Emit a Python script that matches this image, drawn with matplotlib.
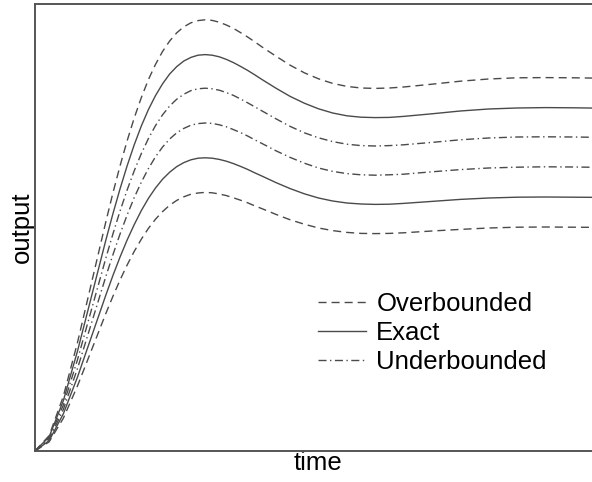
import matplotlib
matplotlib.use("Agg")
import matplotlib.pyplot as plt

plt.rcParams['font.family'] = ['Liberation Sans', 'DejaVu Sans']

time = [0, 0.25, 0.5, 0.75, 1, 1.25, 1.375, 1.5, 1.625, 1.75, 1.875, 2, 2.125, 2.25,
        2.375, 2.5, 2.625, 2.75, 2.875, 3, 3.125, 3.25, 3.375, 3.5, 3.625, 3.75, 3.875,
        4, 4.25, 4.5, 4.75, 5, 5.25, 5.5, 5.75, 6, 6.25, 6.5, 7, 7.5, 8, 8.5, 9, 9.5, 10]

over_high = [0, 0.077, 0.274, 0.543, 0.845, 1.147, 1.291, 1.426, 1.551, 1.665, 1.767,
             1.857, 1.933, 1.998, 2.050, 2.091, 2.121, 2.141, 2.152, 2.156, 2.153, 2.144,
             2.130, 2.113, 2.092, 2.070, 2.046, 2.021, 1.974, 1.929, 1.891, 1.861, 1.838,
             1.823, 1.815, 1.813, 1.815, 1.820, 1.834, 1.849, 1.860, 1.866, 1.867, 1.866,
             1.864]
exact_high = [0, 0.071, 0.252, 0.500, 0.777, 1.055, 1.187, 1.311, 1.426, 1.531, 1.625,
              1.707, 1.777, 1.836, 1.885, 1.922, 1.950, 1.968, 1.979, 1.982, 1.979, 1.971,
              1.958, 1.942, 1.923, 1.903, 1.881, 1.858, 1.814, 1.773, 1.739, 1.711, 1.690,
              1.676, 1.669, 1.667, 1.668, 1.673, 1.686, 1.700, 1.710, 1.715, 1.717, 1.716,
              1.714]
under_high = [0, 0.065, 0.230, 0.457, 0.711, 0.965, 1.086, 1.200, 1.305, 1.401, 1.487,
              1.562, 1.627, 1.681, 1.725, 1.759, 1.784, 1.802, 1.811, 1.814, 1.811, 1.804,
              1.792, 1.778, 1.760, 1.741, 1.721, 1.701, 1.661, 1.623, 1.591, 1.566, 1.547,
              1.534, 1.527, 1.525, 1.527, 1.531, 1.543, 1.556, 1.565, 1.570, 1.571, 1.570,
              1.568]
under_low = [0, 0.058, 0.208, 0.413, 0.643, 0.873, 0.982, 1.085, 1.180, 1.267, 1.344,
             1.412, 1.471, 1.520, 1.560, 1.591, 1.613, 1.629, 1.637, 1.640, 1.638, 1.631,
             1.621, 1.607, 1.592, 1.575, 1.556, 1.538, 1.501, 1.468, 1.439, 1.415, 1.398,
             1.387, 1.381, 1.379, 1.381, 1.384, 1.396, 1.407, 1.415, 1.419, 1.421, 1.420,
             1.418]
exact_low = [0, 0.052, 0.186, 0.370, 0.575, 0.780, 0.878, 0.970, 1.055, 1.132, 1.202,
             1.263, 1.315, 1.359, 1.394, 1.422, 1.442, 1.456, 1.464, 1.466, 1.464, 1.458,
             1.449, 1.437, 1.423, 1.408, 1.391, 1.375, 1.342, 1.312, 1.286, 1.265, 1.250,
             1.240, 1.235, 1.233, 1.234, 1.238, 1.248, 1.258, 1.265, 1.269, 1.270, 1.269,
             1.268]
over_low = [0, 0.046, 0.164, 0.326, 0.507, 0.688, 0.774, 0.855, 0.930, 0.998, 1.059,
            1.113, 1.159, 1.197, 1.229, 1.253, 1.271, 1.284, 1.290, 1.293, 1.291, 1.285,
            1.277, 1.266, 1.254, 1.241, 1.226, 1.212, 1.183, 1.156, 1.134, 1.115, 1.102,
            1.093, 1.088, 1.087, 1.088, 1.091, 1.100, 1.108, 1.115, 1.119, 1.120, 1.119,
            1.118]

legend_labels = ['Overbounded', 'Exact', 'Underbounded']

line_color = '#4a4a4a'
dash = (0, (5.8, 3.6))
dashdot = (0, (5.8, 2.5, 1.0, 2.5))

fig = plt.figure(figsize=(5.92, 4.82), dpi=100)
ax = fig.add_axes([35 / 592, 31 / 482, 567 / 592, 447 / 482])

kw = dict(color=line_color, lw=1.0, solid_joinstyle='round', dash_joinstyle='round')
l1, = ax.plot(time, over_high, linestyle=dash, **kw)
l2, = ax.plot(time, exact_high, linestyle='-', **kw)
l3, = ax.plot(time, under_high, linestyle=dashdot, **kw)
ax.plot(time, under_low, linestyle=dashdot, **kw)
ax.plot(time, exact_low, linestyle='-', **kw)
ax.plot(time, over_low, linestyle=dash, **kw)

ax.set_xlim(0, 10)
ax.set_ylim(0, 2.235)
ax.set_xticks([])
ax.set_yticks([])
for s in ax.spines.values():
    s.set_color('#555555')
    s.set_linewidth(1.4)

ax.set_xlabel('time', fontsize=18.5, labelpad=0)
ax.set_ylabel('output', fontsize=18.5, labelpad=1)

leg = ax.legend([l1, l2, l3], legend_labels, loc='center left',
                bbox_to_anchor=(318 / 592, (482 - 333) / 482),
                bbox_transform=fig.transFigure, frameon=False, fontsize=18.5,
                handlelength=1.85, handletextpad=0.42, labelspacing=0.19,
                borderpad=0, borderaxespad=0)

fig.savefig('out.png', dpi=100)
